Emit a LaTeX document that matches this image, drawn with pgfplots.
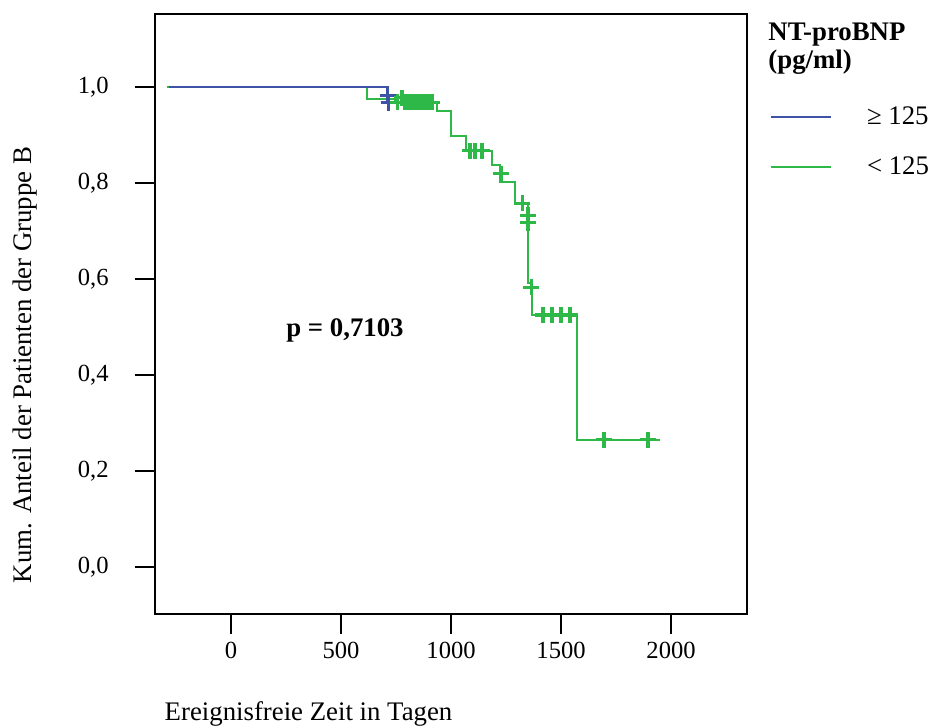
\documentclass[border=0pt]{standalone}
\usepackage{fontspec}
\setmainfont{Liberation Serif}
\usepackage{pgfplots}
\pgfplotsset{compat=1.18}
\definecolor{spssblue}{RGB}{62,82,168}
\definecolor{spssgreen}{RGB}{46,184,72}
\newcommand{\labfont}{\fontsize{13.4bp}{16bp}\selectfont}
\begin{document}
\fontsize{12bp}{14.4bp}\selectfont
\begin{tikzpicture}
\useasboundingbox (-77.5bp,-56bp) rectangle (388.5bp,307bp);
\begin{axis}[
  scale only axis, width=296bp, height=300bp,
  xmin=-345.5, xmax=2345, ymin=-0.0979, ymax=1.152,
  axis line style={line width=1bp},
  every tick/.style={black, line width=1bp},
  tick align=outside, tick pos=left, major tick length=10bp,
  xtick={0,500,1000,1500,2000}, ytick={0,0.2,0.4,0.6,0.8,1.0},
  /pgf/number format/assume math mode=true,
  every tick label/.append style={font=\fontsize{12.3bp}{14.4bp}\selectfont},
  yticklabel style={xshift=-9bp, /pgf/number format/.cd, fixed, fixed zerofill, precision=1, use comma},
  xticklabel style={/pgf/number format/.cd, fixed, 1000 sep={}},
  clip=false,
  legend style={at={(rel axis cs:1.0389,0.87)}, anchor=north west, draw=none, fill=none,
    inner sep=0pt, outer sep=0pt, column sep=17.5bp, row sep=0pt,
    nodes={inner sep=0pt, minimum height=25bp, anchor=west},
    font=\labfont},
  legend cell align=left,
  legend image code/.code={\draw[#1, line width=1bp] (0bp,0bp) -- (30bp,0bp);},
]
\addlegendimage{spssblue}
\addlegendentry{≥ 125}
\addlegendimage{spssgreen}
\addlegendentry{< 125}

% green group (< 125)
\addplot[const plot, spssgreen, line width=0.95bp, forget plot] coordinates {
  (-291,1.0) (618,0.975) (745,0.968) (936,0.95) (1000,0.898) (1068,0.867)
  (1186,0.8375) (1223,0.802) (1291,0.758) (1348,0.592) (1368,0.525)
  (1573,0.265) (1950,0.265)
};
% blue group (>= 125)
\addplot[const plot, spssblue, line width=0.95bp, forget plot] coordinates {
  (-280,1.0) (714,0.967) (716,0.967)
};
\addplot[only marks, mark=+, mark size=4bp, spssblue, mark options={line width=1.6bp}, forget plot] coordinates {
  (712,0.983) (716,0.967)
};
\addplot[only marks, mark=+, mark size=4bp, spssgreen, mark options={line width=1.6bp}, forget plot] coordinates {
  (758,0.968) (777,0.978) (790,0.968) (800,0.968) (812,0.968) (825,0.968)
  (838,0.968) (850,0.968) (862,0.968) (875,0.968) (888,0.968) (900,0.968) (913,0.968)
  (1086,0.867) (1109,0.867) (1141,0.867)
  (1228,0.819) (1323,0.758) (1350,0.733) (1350,0.717) (1364,0.583)
  (1418,0.525) (1459,0.525) (1500,0.525) (1541,0.525)
  (1695,0.265) (1895,0.265)
};

\node[anchor=base, font=\labfont\bfseries] at (rel axis cs:0.321,0.4617) {p = 0,7103};
\node[anchor=base, font=\labfont] at (rel axis cs:0.2593,-0.178) {Ereignisfreie Zeit in Tagen};
\node[rotate=90, anchor=center, font=\labfont] at (rel axis cs:-0.2196,0.415) {Kum. Anteil der Patienten der Gruppe B};
\node[anchor=base west, inner sep=0pt, font=\labfont\bfseries] at (rel axis cs:1.0355,0.955) {NT-proBNP};
\node[anchor=base west, inner sep=0pt, font=\labfont\bfseries] at (rel axis cs:1.0355,0.909) {(pg/ml)};
\end{axis}
\end{tikzpicture}
\end{document}
